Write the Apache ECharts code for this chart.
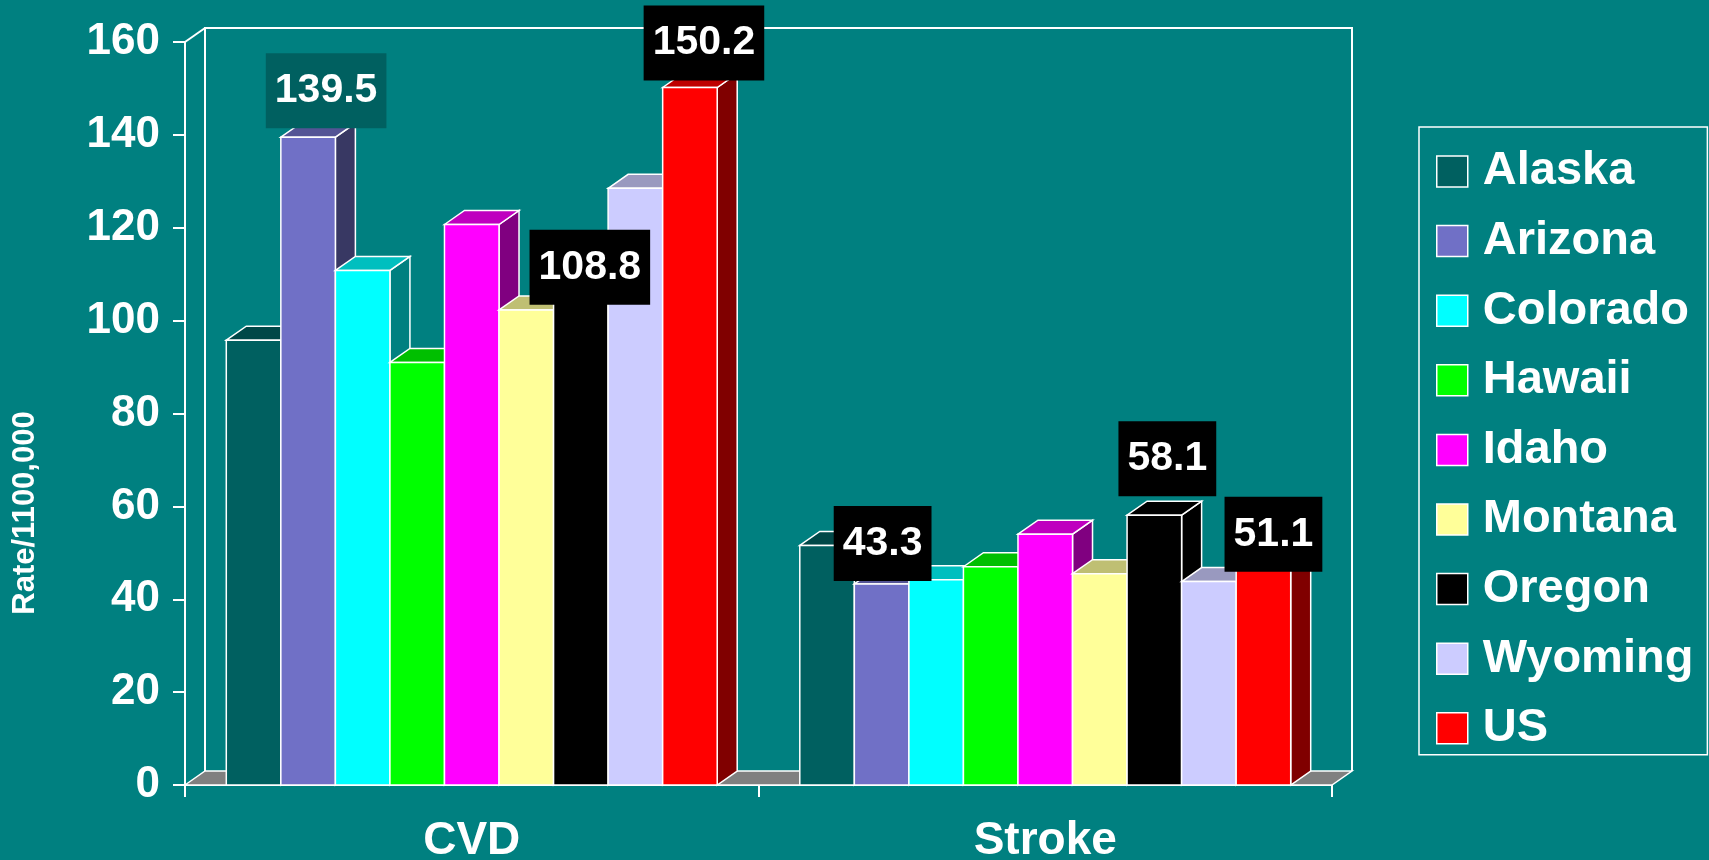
<!DOCTYPE html>
<html>
<head>
<meta charset="utf-8">
<script src="https://cdn.jsdelivr.net/npm/echarts@6/dist/echarts.min.js"></script>
<style>
html,body{margin:0;padding:0;background:#008080;}
#chart{width:1709px;height:860px;}
</style>
</head>
<body>
<div id="chart"></div>
<script>
// ---- data ----
const categories = ['CVD', 'Stroke'];
const states = ['Alaska', 'Arizona', 'Colorado', 'Hawaii', 'Idaho', 'Montana', 'Oregon', 'Wyoming', 'US'];
const cvdValues = [95.8, 139.5, 110.8, 91.0, 120.7, 102.3, 108.8, 128.5, 150.2];
const strokeValues = [51.6, 43.3, 44.2, 47.0, 54.0, 45.5, 58.1, 43.8, 51.1];
const yMin = 0, yMax = 160, yStep = 20;
const yAxisTitle = 'Rate/1100,000';
// which bars carry a value label: [category index, state]
const labeledPoints = [[0, 'Arizona'], [0, 'Oregon'], [0, 'US'], [1, 'Arizona'], [1, 'Oregon'], [1, 'US']];

// ---- styles ----
const colors = ['#006060', '#7070C6', '#00FFFF', '#00FF00', '#FF00FF', '#FFFF99', '#000000', '#CCCCFF', '#FF0000'];
const FONT = "'Liberation Sans', Arial, Helvetica, sans-serif";
const GROUP = 0.856;   // share of category band used by the bar group
const DX = 20, DY = 14; // 3-D depth offset
// label box placement: [dx from bar centre, box bottom relative to bar top (px, + = lower), box colour]
const labelPlacement = {
  '0|Arizona': [18, -9, '#006060'],
  '0|Oregon': [9, 25, '#000000'],
  '0|US': [14, -7, '#000000'],
  '1|Arizona': [1, -3, '#000000'],
  '1|Oregon': [13, -19, '#000000'],
  '1|US': [10, 24, '#000000']
};

function shade(hex, f) {
  const n = parseInt(hex.slice(1), 16);
  const r = Math.round(((n >> 16) & 255) * f), g = Math.round(((n >> 8) & 255) * f), b = Math.round((n & 255) * f);
  return 'rgb(' + r + ',' + g + ',' + b + ')';
}

function barGeom(api, cat, v, i) {
  const band = api.size([1, 0])[0];
  const groupW = band * GROUP;
  const bw = groupW / states.length;
  const c0 = api.coord([cat, 0]);
  const c1 = api.coord([cat, v]);
  const x0 = c0[0] - groupW / 2 + i * bw;
  return { x0: x0, x1: x0 + bw, yb: c0[1], yt: c1[1], bw: bw };
}

function makeBarRender(i) {
  return function (params, api) {
    const g = barGeom(api, api.value(0), api.value(1), i);
    const col = colors[i];
    const edge = { stroke: '#ffffff', lineWidth: 1.5 };
    return {
      type: 'group',
      children: [
        { type: 'polygon', shape: { points: [[g.x1, g.yt], [g.x1 + DX, g.yt - DY], [g.x1 + DX, g.yb - DY], [g.x1, g.yb]] },
          style: Object.assign({ fill: shade(col, 0.5) }, edge) },
        { type: 'polygon', shape: { points: [[g.x0, g.yt], [g.x0 + DX, g.yt - DY], [g.x1 + DX, g.yt - DY], [g.x1, g.yt]] },
          style: Object.assign({ fill: shade(col, 0.75) }, edge) },
        { type: 'rect', shape: { x: g.x0, y: g.yt, width: g.bw, height: g.yb - g.yt },
          style: Object.assign({ fill: col }, edge) }
      ]
    };
  };
}

function frameRender(params, api) {
  const band = api.size([1, 0])[0];
  const c = api.coord([0, yMin]);
  const left = c[0] - band / 2, right = left + band * categories.length;
  const y0 = c[1], yTop = api.coord([0, yMax])[1];
  const line = { stroke: '#ffffff', lineWidth: 2, fill: null };
  return {
    type: 'group',
    children: [
      { type: 'polygon', shape: { points: [[left, y0], [left + DX, y0 - DY], [right + DX, y0 - DY], [right, y0]] },
        style: { fill: '#808080', stroke: '#ffffff', lineWidth: 1.5 } },
      { type: 'polyline', shape: { points: [[left + DX, y0 - DY], [left + DX, yTop - DY], [right + DX, yTop - DY], [right + DX, y0 - DY]] },
        style: line },
      { type: 'line', shape: { x1: left, y1: yTop, x2: left + DX, y2: yTop - DY }, style: line }
    ]
  };
}

function labelRender(params, api) {
  const cat = api.value(0), i = api.value(1), v = api.value(2);
  const g = barGeom(api, cat, v, i);
  const p = labelPlacement[cat + '|' + states[i]];
  return {
    type: 'text',
    x: (g.x0 + g.x1) / 2 + p[0],
    y: g.yt + p[1],
    style: {
      text: v.toFixed(1),
      fill: '#ffffff',
      font: 'bold 41px ' + FONT,
      align: 'center',
      verticalAlign: 'bottom',
      backgroundColor: p[2],
      padding: [17, 9, 17, 9],
      lineHeight: 41
    }
  };
}

const series = [{
  type: 'custom', name: '_frame', renderItem: frameRender, data: [[0, 0]],
  encode: { x: 0, y: 1 }, silent: true, clip: false
}];
states.forEach(function (s, i) {
  series.push({
    type: 'custom',
    name: s,
    renderItem: makeBarRender(i),
    data: categories.map(function (c, k) { return [k, k === 0 ? cvdValues[i] : strokeValues[i]]; }),
    encode: { x: 0, y: 1 },
    itemStyle: { color: colors[i] },
    silent: true,
    clip: false
  });
});
series.push({
  type: 'custom', name: '_labels', renderItem: labelRender, silent: true, clip: false,
  encode: { x: 0, y: 2 },
  data: labeledPoints.map(function (lp) {
    const i = states.indexOf(lp[1]);
    return [lp[0], i, lp[0] === 0 ? cvdValues[i] : strokeValues[i]];
  })
});

const chart = echarts.init(document.getElementById('chart'), null, { renderer: 'canvas' });
chart.setOption({
  backgroundColor: '#008080',
  animation: false,
  grid: { left: 185, right: 377, top: 42, bottom: 75, containLabel: false, outerBoundsMode: 'none' },
  xAxis: {
    type: 'category',
    data: categories,
    axisLine: { lineStyle: { color: '#ffffff', width: 2 } },
    axisTick: { show: true, length: 12, lineStyle: { color: '#ffffff', width: 2 } },
    axisLabel: { color: '#ffffff', fontSize: 46, fontWeight: 'bold', fontFamily: FONT, margin: 33 },
    splitLine: { show: false }
  },
  yAxis: {
    type: 'value',
    min: yMin, max: yMax, interval: yStep,
    axisLine: { show: true, lineStyle: { color: '#ffffff', width: 2 } },
    axisTick: { show: true, length: 12, lineStyle: { color: '#ffffff', width: 2 } },
    axisLabel: { color: '#ffffff', fontSize: 44, fontWeight: 'bold', fontFamily: FONT, margin: 25 },
    splitLine: { show: false }
  },
  legend: {
    data: states.map(function (s) { return { name: s, icon: 'rect' }; }),
    orient: 'vertical',
    left: 1419,
    top: 127,
    padding: [21, 14, 3, 17],
    itemGap: 22.6,
    itemWidth: 31,
    itemHeight: 31,
    borderColor: '#ffffff',
    borderWidth: 1.5,
    itemStyle: { borderColor: '#ffffff', borderWidth: 1.5 },
    textStyle: { color: '#ffffff', fontSize: 47, fontWeight: 'bold', fontFamily: FONT, lineHeight: 47, padding: [0, 0, 0, 10] },
    selectedMode: false
  },
  graphic: [{
    type: 'text',
    x: 25, y: 513,
    rotation: Math.PI / 2,
    style: { text: yAxisTitle, fill: '#ffffff', font: 'bold 31px ' + FONT, align: 'center', verticalAlign: 'middle' }
  }],
  series: series
});
</script>
</body>
</html>
